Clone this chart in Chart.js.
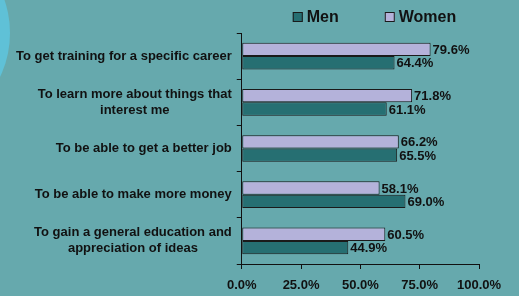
<!DOCTYPE html>
<html>
<head>
<meta charset="utf-8">
<script src="https://cdn.jsdelivr.net/npm/chart.js@4.4.1/dist/chart.umd.min.js"></script>
<style>
  body { margin: 0; background: #66a9ad; }
</style>
</head>
<body>
<canvas id="myChart" width="519" height="296"></canvas>
<script>
var reasons = [
  ["To get training for a specific career"],
  ["To learn more about things that", "interest me"],
  ["To be able to get a better job"],
  ["To be able to make more money"],
  ["To gain a general education and", "appreciation of ideas"]
];
var menValues = [64.4, 61.1, 65.5, 69.0, 44.9];
var womenValues = [79.6, 71.8, 66.2, 58.1, 60.5];
var xTicks = [0, 25, 50, 75, 100];

var FONT = '"Liberation Sans", Arial, sans-serif';
var INK = '#111111';

// light circle on the left edge
var bgCircle = {
  id: 'bgCircle',
  beforeDraw: function(chart) {
    var ctx = chart.ctx;
    ctx.save();
    ctx.fillStyle = '#5fc1d7';
    ctx.beginPath();
    ctx.arc(-92, 33, 102, 0, Math.PI * 2);
    ctx.fill();
    ctx.restore();
  }
};

// y labels: block right aligned, lines centered inside the block
var yLabels = {
  id: 'yLabels',
  afterDraw: function(chart) {
    var ctx = chart.ctx;
    var scale = chart.scales.y;
    var right = scale.right - 5 - 5;
    var lh = 16;
    ctx.save();
    ctx.font = 'bold 13px ' + FONT;
    ctx.fillStyle = INK;
    ctx.textAlign = 'center';
    ctx.textBaseline = 'middle';
    chart.data.labels.forEach(function(lines, i) {
      var w = 0;
      lines.forEach(function(l) { w = Math.max(w, ctx.measureText(l).width); });
      var cx = right - w / 2;
      var y0 = scale.getPixelForTick(i) - (lines.length - 1) * lh / 2;
      lines.forEach(function(l, k) { ctx.fillText(l, cx, y0 + k * lh); });
    });
    ctx.restore();
  }
};

// value labels at the bar ends
var valueLabels = {
  id: 'valueLabels',
  afterDatasetsDraw: function(chart) {
    var ctx = chart.ctx;
    ctx.save();
    ctx.font = 'bold 13px ' + FONT;
    ctx.fillStyle = INK;
    ctx.textBaseline = 'middle';
    chart.data.datasets.forEach(function(ds, i) {
      chart.getDatasetMeta(i).data.forEach(function(bar, j) {
        ctx.fillText(ds.data[j].toFixed(1) + '%', bar.x + 2, bar.y + 1);
      });
    });
    ctx.restore();
  }
};

// legend row: Men then Women
var legendRow = {
  id: 'legendRow',
  afterDraw: function(chart) {
    var ctx = chart.ctx;
    var x = chart.chartArea.left + 51;
    var y = 17;
    ctx.save();
    ctx.font = 'bold 16px ' + FONT;
    ctx.textBaseline = 'middle';
    [1, 0].forEach(function(i) {
      var ds = chart.data.datasets[i];
      ctx.fillStyle = ds.backgroundColor;
      ctx.fillRect(x, y - 5, 10, 10);
      ctx.strokeStyle = '#1a1a1a';
      ctx.lineWidth = 1;
      ctx.strokeRect(x + 0.5, y - 4.5, 9, 9);
      ctx.fillStyle = INK;
      ctx.fillText(ds.label, x + 14, y + 1);
      x += 14 + ctx.measureText(ds.label).width + 46;
    });
    ctx.restore();
  }
};

var ctx = document.getElementById("myChart");
var myChart = new Chart(ctx, {
  type: 'bar',
  data: {
    labels: reasons,
    datasets: [{
      label: 'Women',
      data: womenValues,
      backgroundColor: '#b4b2da'
    }, {
      label: 'Men',
      data: menValues,
      backgroundColor: '#266f72'
    }]
  },
  options: {
    indexAxis: 'y',
    responsive: false,
    animation: false,
    layout: { padding: { top: 33, left: 11, right: 40, bottom: 0 } },
    datasets: {
      bar: {
        borderWidth: 1,
        borderColor: '#1a1a1a',
        borderSkipped: false,
        categoryPercentage: 0.578,
        barPercentage: 1
      }
    },
    plugins: {
      legend: { display: false },
      tooltip: { enabled: false }
    },
    scales: {
      x: {
        min: 0,
        max: 100,
        afterBuildTicks: function(scale) {
          scale.ticks = xTicks.map(function(v) { return { value: v }; });
        },
        afterFit: function(scale) { scale.height = 32; },
        grid: { drawOnChartArea: false, tickLength: 5, color: INK },
        border: { color: INK },
        ticks: {
          color: INK,
          padding: 9,
          font: { family: FONT, size: 13, weight: 'bold' },
          callback: function(v) { return v.toFixed(1) + '%'; }
        }
      },
      y: {
        grid: { drawOnChartArea: false, tickLength: 5, color: INK, offset: true },
        border: { color: INK },
        ticks: {
          color: 'transparent',
          padding: 5,
          font: { family: FONT, size: 13, weight: 'bold' }
        }
      }
    }
  },
  plugins: [bgCircle, yLabels, valueLabels, legendRow]
});
</script>
</body>
</html>
